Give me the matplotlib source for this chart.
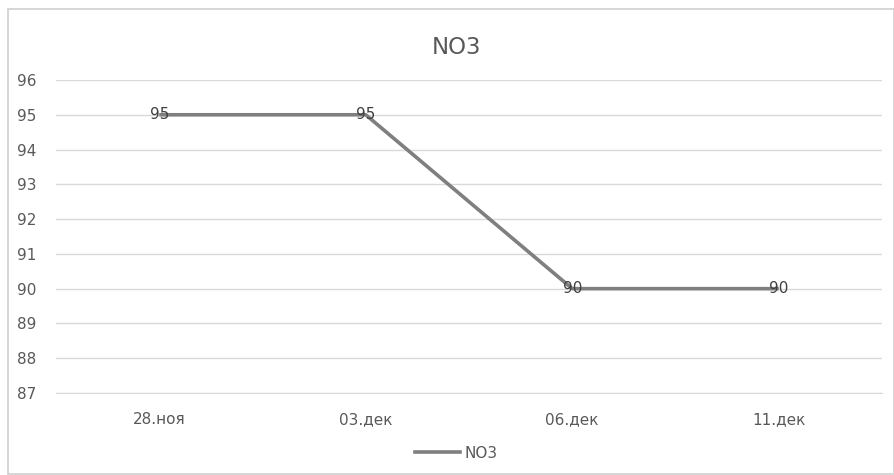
import matplotlib
matplotlib.use("Agg")
import matplotlib.pyplot as plt
from matplotlib.patches import Rectangle
from matplotlib.lines import Line2D

categories = ["28.ноя", "03.дек", "06.дек", "11.дек"]
values = [95, 95, 90, 90]
series_name = "NO3"
yticks = list(range(87, 97))

W, H = 894, 475
fig = plt.figure(figsize=(W / 100, H / 100), dpi=100)
plt.rcParams['font.family'] = ['DejaVu Sans']

# outer border
fig.patches.append(Rectangle((8 / W, 1 - 474 / H), (894 - 8) / W, (474 - 9) / H,
                             transform=fig.transFigure, fill=False,
                             edgecolor='#d0d0d0', linewidth=1.2))

left, right, top, bottom = 56, 882, 80, 393
ax = fig.add_axes([left / W, 1 - bottom / H, (right - left) / W, (bottom - top) / H])
x = list(range(len(categories)))
ax.plot(x, values, color='#7f7f7f', linewidth=2.6, solid_capstyle='butt', zorder=3)
for xi, v in zip(x, values):
    ax.annotate(str(v), (xi, v), xytext=(0, 0), textcoords='offset points',
                ha='center', va='center', fontsize=11, color='#404040', zorder=4)

ax.set_xlim(-0.5, len(categories) - 0.5)
ax.set_ylim(87, 96)
ax.set_yticks(yticks)
ax.set_xticks(x)
ax.set_xticklabels(categories)
ax.grid(axis='y', color='#d9d9d9', linewidth=1)
ax.set_axisbelow(True)
for s in ['top', 'right', 'left']:
    ax.spines[s].set_visible(False)
ax.spines['bottom'].set_color('#d9d9d9')
ax.tick_params(axis='both', length=0, labelsize=11, colors='#595959')
ax.tick_params(axis='y', pad=14)
ax.tick_params(axis='x', pad=14)

fig.text(456 / W, 1 - 47 / H, "NO3", ha='center', va='center',
         fontsize=16.5, color='#595959')

handle = Line2D([], [], color='#7f7f7f', linewidth=2.6)
leg = fig.legend([handle], [series_name], loc='center', bbox_to_anchor=(456 / W, 1 - 453 / H),
                 frameon=False, fontsize=11, labelcolor='#595959', handlelength=2.95,
                 handletextpad=0.3, borderpad=0, borderaxespad=0)

fig.savefig("out.png", dpi=100)
